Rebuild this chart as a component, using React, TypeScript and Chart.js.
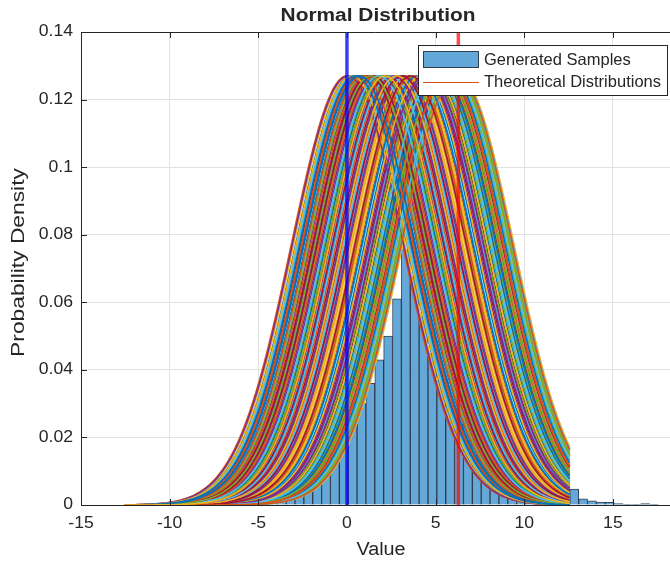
import { useEffect, useRef } from 'react';
import { Chart, registerables } from 'chart.js';

Chart.register(...registerables);

// Histogram of the generated samples (bin centres, bin width 0.5, density values)
const binCenters = [
  -4.68, -4.18, -3.68, -3.18, -2.68, -2.18, -1.68, -1.18, -0.68, -0.18,
  0.32, 0.82, 1.32, 1.82, 2.32, 2.82, 3.32, 3.82, 4.32, 4.82,
  5.32, 5.82, 6.32, 6.82, 7.32, 7.82, 8.32, 8.82, 9.32, 9.82,
  10.32, 10.82, 11.32, 11.82, 12.32, 12.82, 13.32, 13.82, 14.32, 14.82,
  15.32, 15.82, 16.32, 16.82, 17.32,
];
const binDensity = [
  0.0012, 0.0016, 0.002, 0.0026, 0.0033, 0.0044, 0.006, 0.009, 0.013, 0.018,
  0.024, 0.03, 0.036, 0.043, 0.05, 0.061, 0.0755, 0.0676, 0.0557, 0.045,
  0.037, 0.03, 0.024, 0.019, 0.0148, 0.0115, 0.009, 0.0075, 0.0065, 0.006,
  0.0056, 0.0053, 0.005, 0.0049, 0.0048, 0.0047, 0.0018, 0.0012, 0.0009, 0.0008,
  0.0004, 0.0002, 0.0002, 0.0004, 0.0002,
];

// Means of the theoretical normal curves, in plotting order
const curveMeans = [
  0.0, 3.412, 1.187, 5.874, 2.263, 4.59, 0.721, 6.011, 2.948, 1.655,
  5.203, 0.334, 3.901, 4.127, 2.517, 6.283, 1.042, 5.53, 3.155, 0.519,
  4.862, 2.081, 5.987, 1.398, 3.644, 0.912, 4.351, 2.736, 5.712, 0.127,
  3.288, 1.873, 6.154, 4.702, 2.394, 0.635, 5.061, 3.027, 1.506, 4.478,
  5.339, 0.248, 2.855, 3.771, 1.29, 6.087, 4.015, 2.177, 0.823, 5.447,
  3.523, 1.734, 4.936, 0.401, 2.612, 5.795, 1.111, 3.863, 4.266, 0.978,
  6.224, 2.319, 5.128, 1.582, 3.346, 0.058, 4.659, 2.983, 5.624, 1.945,
  0.577, 4.789, 3.214, 6.043, 2.443, 1.224, 5.268, 3.702, 0.276, 4.554,
  2.015, 5.929, 1.457, 3.981, 0.866, 4.198, 2.691, 5.395, 1.803, 3.087,
  0.466, 6.198, 2.801, 4.414, 1.339, 5.006, 3.589, 0.689, 5.668, 2.142,
];
const SIGMA = Math.PI;
const X_FROM = -4 * Math.PI;
const X_TO = 4 * Math.PI;
const X_SAMPLES = 400;

// Marker lines at the smallest and largest mean
const markerX = [0, 2 * Math.PI];
const markerColors = ['rgba(0,0,255,0.75)', 'rgba(255,0,0,0.7)'];

const lineColors = ['#0072BD', '#D95319', '#EDB120', '#7E2F8E', '#77AC30', '#4DBEEE', '#A2142F'];

const X_MIN = -15;
const X_MAX = 18.22;
const Y_MIN = 0;
const Y_MAX = 0.14;

const TEXT = '#262626';
const FONT = '"Liberation Sans", Arial, Helvetica, sans-serif';
const HIST_FILL = '#63a8d8';
const HIST_EDGE = 'rgba(22,34,50,0.85)';

function normalPdf(x: number, mu: number, s: number) {
  const z = (x - mu) / s;
  return Math.exp(-0.5 * z * z) / (s * Math.sqrt(2 * Math.PI));
}

function drawText(
  ctx: CanvasRenderingContext2D,
  s: string,
  x: number,
  y: number,
  font: string,
  align: 'left' | 'center' | 'right',
  sx = 1,
) {
  ctx.save();
  ctx.font = font;
  ctx.textBaseline = 'middle';
  ctx.textAlign = 'left';
  const w = ctx.measureText(s).width * sx;
  const left = align === 'center' ? x - w / 2 : align === 'right' ? x - w : x;
  ctx.translate(left, y);
  ctx.scale(sx, 1);
  ctx.fillStyle = TEXT;
  ctx.fillText(s, 0, 0);
  ctx.restore();
}

function fmtY(v: number) {
  return String(parseFloat(v.toFixed(2)));
}

const axesDecor = {
  id: 'axesDecor',
  afterDraw(chart: any) {
    const { ctx, chartArea: a, scales } = chart;
    const xs = scales.x;
    const ys = scales.y;
    ctx.save();

    // axes box (top, left, bottom) and inward ticks
    ctx.strokeStyle = TEXT;
    ctx.lineWidth = 1;
    ctx.beginPath();
    ctx.moveTo(a.left + 0.5, a.top + 0.5);
    ctx.lineTo(a.right, a.top + 0.5);
    ctx.moveTo(a.left + 0.5, a.top + 0.5);
    ctx.lineTo(a.left + 0.5, a.bottom + 0.5);
    ctx.lineTo(a.right, a.bottom + 0.5);
    const tl = 6;
    xs.ticks.forEach((t: any) => {
      const px = Math.round(xs.getPixelForValue(t.value)) + 0.5;
      ctx.moveTo(px, a.bottom);
      ctx.lineTo(px, a.bottom - tl);
      ctx.moveTo(px, a.top);
      ctx.lineTo(px, a.top + tl);
    });
    ys.ticks.forEach((t: any) => {
      const py = Math.round(ys.getPixelForValue(t.value)) + 0.5;
      ctx.moveTo(a.left, py);
      ctx.lineTo(a.left + tl, py);
    });
    ctx.stroke();

    // tick labels
    const tickFont = `16px ${FONT}`;
    xs.ticks.forEach((t: any) => {
      drawText(ctx, String(t.value), xs.getPixelForValue(t.value), a.bottom + 19, tickFont, 'center', 1.1);
    });
    ys.ticks.forEach((t: any) => {
      drawText(ctx, fmtY(t.value), a.left - 8, ys.getPixelForValue(t.value), tickFont, 'right', 1.1);
    });

    // axis titles and chart title
    drawText(ctx, 'Value', 381, 550, `18px ${FONT}`, 'center', 1.1);
    ctx.save();
    ctx.translate(19, (a.top + a.bottom) / 2 - 6);
    ctx.rotate(-Math.PI / 2);
    drawText(ctx, 'Probability Density', 0, 0, `19px ${FONT}`, 'center', 1.2);
    ctx.restore();
    drawText(ctx, 'Normal Distribution', 378, 16, `bold 18px ${FONT}`, 'center', 1.16);

    // legend
    const lx = 418.5;
    const ly = 45.5;
    const lw = 249;
    const lh = 50;
    ctx.fillStyle = '#ffffff';
    ctx.fillRect(lx, ly, lw, lh);
    ctx.strokeStyle = TEXT;
    ctx.lineWidth = 1;
    ctx.strokeRect(lx, ly, lw, lh);
    ctx.fillStyle = HIST_FILL;
    ctx.fillRect(423.5, 51.5, 55, 16);
    ctx.strokeStyle = HIST_EDGE;
    ctx.strokeRect(423.5, 51.5, 55, 16);
    ctx.strokeStyle = lineColors[1];
    ctx.beginPath();
    ctx.moveTo(423, 82.5);
    ctx.lineTo(479, 82.5);
    ctx.stroke();
    drawText(ctx, 'Generated Samples', 484, 60, `16.5px ${FONT}`, 'left', 1);
    drawText(ctx, 'Theoretical Distributions', 484, 82, `16.5px ${FONT}`, 'left', 1);

    ctx.restore();
  },
};

export default function App() {
  const canvasRef = useRef<HTMLCanvasElement | null>(null);

  useEffect(() => {
    const canvas = canvasRef.current;
    if (!canvas) return;

    const datasets: any[] = [];

    datasets.push({
      type: 'bar',
      label: 'Generated Samples',
      data: binCenters.map((c, i) => ({ x: c, y: binDensity[i] })),
      backgroundColor: HIST_FILL,
      borderColor: HIST_EDGE,
      borderWidth: 1,
      borderSkipped: 'start',
      barPercentage: 1,
      categoryPercentage: 1,
      order: 10000,
    });

    const xs: number[] = [];
    for (let i = 0; i < X_SAMPLES; i++) xs.push(X_FROM + ((X_TO - X_FROM) * i) / (X_SAMPLES - 1));

    curveMeans.forEach((mu, k) => {
      datasets.push({
        type: 'line',
        label: 'Theoretical Distributions',
        data: xs.map((x) => ({ x, y: normalPdf(x, mu, SIGMA) })),
        borderColor: lineColors[(k + 1) % lineColors.length],
        borderWidth: 1.6,
        pointRadius: 0,
        fill: false,
        tension: 0,
        order: 5000 - k,
      });
    });

    markerX.forEach((mx, i) => {
      datasets.push({
        type: 'line',
        label: 'marker',
        data: [
          { x: mx, y: Y_MIN },
          { x: mx, y: Y_MAX },
        ],
        borderColor: markerColors[i],
        borderWidth: 3.5,
        pointRadius: 0,
        fill: false,
        order: 2 - i,
      });
    });

    const chart = new Chart(canvas, {
      type: 'line',
      data: { datasets },
      options: {
        animation: false,
        responsive: false,
        devicePixelRatio: 1,
        layout: { padding: { left: 0, right: 0, top: 32, bottom: 0 } },
        plugins: {
          legend: { display: false },
          title: { display: false },
          tooltip: { enabled: false },
        },
        scales: {
          x: {
            type: 'linear',
            min: X_MIN,
            max: X_MAX,
            offset: false,
            ticks: { stepSize: 5, includeBounds: false, display: false },
            grid: { color: '#e1e1e1', drawTicks: false, offset: false },
            border: { display: false },
            afterFit: (s: any) => {
              s.height = 57;
            },
          },
          y: {
            type: 'linear',
            min: Y_MIN,
            max: Y_MAX,
            ticks: { stepSize: 0.02, display: false },
            grid: { color: '#e1e1e1', drawTicks: false },
            border: { display: false },
            afterFit: (s: any) => {
              s.width = 81;
            },
          },
        },
      },
      plugins: [axesDecor],
    });

    return () => chart.destroy();
  }, []);

  return (
    <div style={{ position: 'fixed', left: 0, top: 0, width: 670, height: 562, background: '#ffffff' }}>
      <canvas ref={canvasRef} width={670} height={562} />
    </div>
  );
}
